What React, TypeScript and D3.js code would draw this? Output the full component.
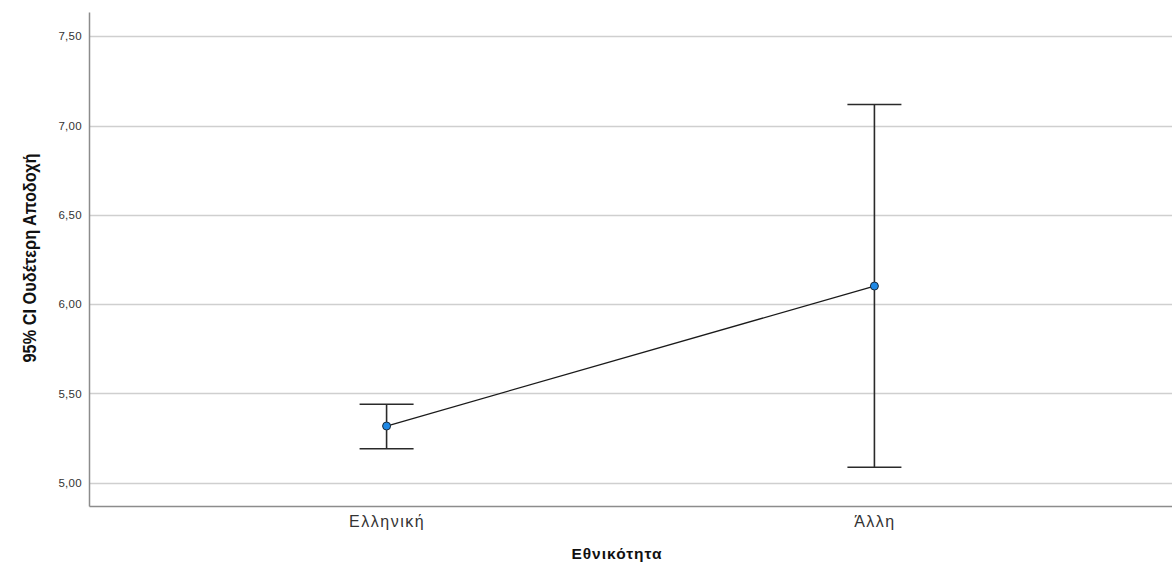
import React, { useEffect, useRef } from 'react';
import * as d3 from 'd3';

const categories = ['Ελληνική', 'Άλλη'];
const means = [5.317, 6.101];
const lowerCI = [5.19, 5.086];
const upperCI = [5.439, 7.118];
const yTicks = [5.0, 5.5, 6.0, 6.5, 7.0, 7.5];

export default function App() {
  const ref = useRef<SVGSVGElement>(null);

  useEffect(() => {
    const width = 1172, height = 572;
    const margin = { top: 12, right: 0, bottom: 66, left: 89 };
    const svg = d3.select(ref.current);
    svg.selectAll('*').remove();

    const data = categories.map((c, i) => ({ cat: c, mean: means[i], lo: lowerCI[i], hi: upperCI[i] }));

    const x = d3.scalePoint()
      .domain(categories)
      .range([margin.left, width - margin.right])
      .padding(0.61);

    const y = d3.scaleLinear()
      .domain([4.869, 7.636])
      .range([height - margin.bottom, margin.top]);

    const fmt = (d: number) => d.toFixed(2).replace('.', ',');

    // grid
    svg.append('g')
      .selectAll('line')
      .data(yTicks)
      .join('line')
      .attr('x1', margin.left)
      .attr('x2', width - margin.right)
      .attr('y1', d => Math.round(y(d)) + 0.5)
      .attr('y2', d => Math.round(y(d)) + 0.5)
      .attr('stroke', '#cfcfcf')
      .attr('stroke-width', 1.3);

    // y axis
    const yAxis = svg.append('g')
      .attr('transform', `translate(${margin.left},0)`)
      .call(d3.axisLeft(y).tickValues(yTicks).tickFormat(d => fmt(+d)).tickSize(0).tickPadding(7));
    yAxis.select('.domain').attr('stroke', '#8c8c8c').attr('stroke-width', 1.5);
    yAxis.selectAll('text')
      .attr('font-family', 'Liberation Sans, Arial, sans-serif')
      .attr('font-size', 11.5)
      .attr('letter-spacing', 0.3)
      .attr('fill', '#333');

    // x axis
    const xAxis = svg.append('g')
      .attr('transform', `translate(0,${height - margin.bottom})`)
      .call(d3.axisBottom(x).tickSize(0).tickPadding(10));
    xAxis.select('.domain').attr('stroke', '#8c8c8c').attr('stroke-width', 1.5);
    xAxis.selectAll('text')
      .attr('font-family', 'Liberation Sans, Arial, sans-serif')
      .attr('font-size', 16)
      .attr('letter-spacing', 1.5)
      .attr('fill', '#333');

    // axis titles
    svg.append('text')
      .attr('x', 617)
      .attr('y', 559)
      .attr('text-anchor', 'middle')
      .attr('font-family', 'Liberation Sans, Arial, sans-serif')
      .attr('font-weight', 'bold')
      .attr('font-size', 15.5)
      .attr('letter-spacing', 1)
      .attr('fill', '#111')
      .text('Εθνικότητα');

    svg.append('text')
      .attr('transform', `translate(36,258) rotate(-90) scale(0.86,1)`)
      .attr('text-anchor', 'middle')
      .attr('font-family', 'Liberation Sans, Arial, sans-serif')
      .attr('font-weight', 'bold')
      .attr('font-size', 19)
      .attr('fill', '#111')
      .text('95% CI Ουδέτερη Αποδοχή');

    // mean line
    svg.append('path')
      .datum(data)
      .attr('fill', 'none')
      .attr('stroke', '#1a1a1a')
      .attr('stroke-width', 1.3)
      .attr('d', d3.line<any>().x(d => x(d.cat)!).y(d => y(d.mean)));

    // error bars
    const cap = 27;
    const bars = svg.append('g')
      .attr('stroke', '#2a2a2a')
      .attr('stroke-width', 1.6);
    bars.selectAll('.v')
      .data(data)
      .join('line')
      .attr('x1', d => x(d.cat)!)
      .attr('x2', d => x(d.cat)!)
      .attr('y1', d => y(d.lo))
      .attr('y2', d => y(d.hi));
    bars.selectAll('.hi')
      .data(data)
      .join('line')
      .attr('x1', d => x(d.cat)! - cap)
      .attr('x2', d => x(d.cat)! + cap)
      .attr('y1', d => y(d.hi))
      .attr('y2', d => y(d.hi));
    bars.selectAll('.lo')
      .data(data)
      .join('line')
      .attr('x1', d => x(d.cat)! - cap)
      .attr('x2', d => x(d.cat)! + cap)
      .attr('y1', d => y(d.lo))
      .attr('y2', d => y(d.lo));

    // points
    svg.append('g')
      .selectAll('circle')
      .data(data)
      .join('circle')
      .attr('cx', d => x(d.cat)!)
      .attr('cy', d => y(d.mean))
      .attr('r', 4)
      .attr('fill', '#1e88e5')
      .attr('stroke', '#1a2a3a')
      .attr('stroke-width', 1);
  }, []);

  return (
    <svg ref={ref} width={1172} height={572}
      style={{ position: 'absolute', left: 0, top: 0, background: '#fff' }} />
  );
}
